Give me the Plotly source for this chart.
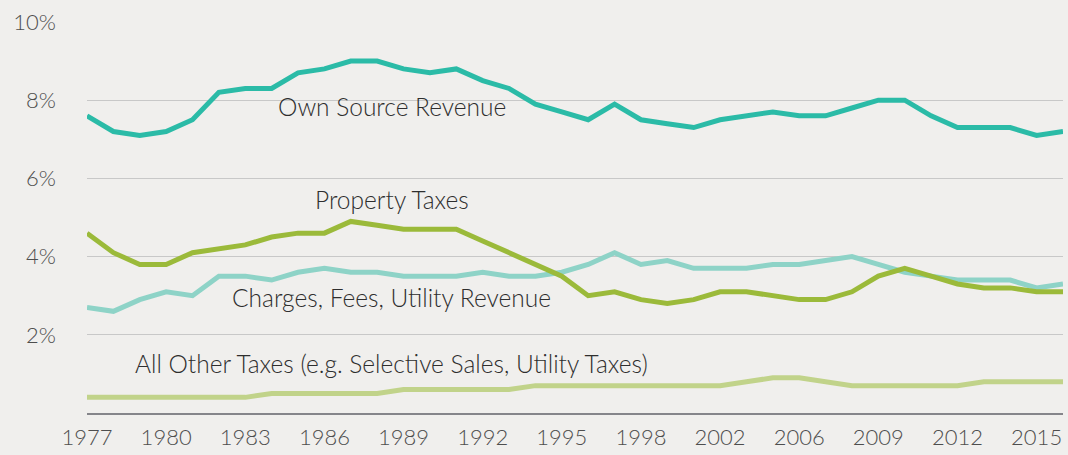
import plotly.graph_objects as go

years = [str(y) for y in list(range(1977, 2001)) + [2002] + list(range(2004, 2017))]

own_source = [7.6, 7.2, 7.1, 7.2, 7.5, 8.2, 8.3, 8.3, 8.7, 8.8, 9.0, 9.0, 8.8, 8.7, 8.8, 8.5,
              8.3, 7.9, 7.7, 7.5, 7.9, 7.5, 7.4, 7.3, 7.5, 7.6, 7.7, 7.6, 7.6, 7.8, 8.0, 8.0,
              7.6, 7.3, 7.3, 7.3, 7.1, 7.2]
property_taxes = [4.6, 4.1, 3.8, 3.8, 4.1, 4.2, 4.3, 4.5, 4.6, 4.6, 4.9, 4.8, 4.7, 4.7, 4.7, 4.4,
                  4.1, 3.8, 3.5, 3.0, 3.1, 2.9, 2.8, 2.9, 3.1, 3.1, 3.0, 2.9, 2.9, 3.1, 3.5, 3.7,
                  3.5, 3.3, 3.2, 3.2, 3.1, 3.1]
charges = [2.7, 2.6, 2.9, 3.1, 3.0, 3.5, 3.5, 3.4, 3.6, 3.7, 3.6, 3.6, 3.5, 3.5, 3.5, 3.6,
           3.5, 3.5, 3.6, 3.8, 4.1, 3.8, 3.9, 3.7, 3.7, 3.7, 3.8, 3.8, 3.9, 4.0, 3.8, 3.6,
           3.5, 3.4, 3.4, 3.4, 3.2, 3.3]
other_taxes = [0.4, 0.4, 0.4, 0.4, 0.4, 0.4, 0.4, 0.5, 0.5, 0.5, 0.5, 0.5, 0.6, 0.6, 0.6, 0.6,
               0.6, 0.7, 0.7, 0.7, 0.7, 0.7, 0.7, 0.7, 0.7, 0.8, 0.9, 0.9, 0.8, 0.7, 0.7, 0.7,
               0.7, 0.7, 0.8, 0.8, 0.8, 0.8]

tick_years = ["1977", "1980", "1983", "1986", "1989", "1992", "1995", "1998",
              "2002", "2006", "2009", "2012", "2015"]
y_ticks = [2, 4, 6, 8, 10]
y_tick_text = ["2%", "4%", "6%", "8%", "10%"]

series = [
    ("All Other Taxes (e.g. Selective Sales, Utility Taxes)", other_taxes, "#C1D38A"),
    ("Charges, Fees, Utility Revenue", charges, "#8ED3C7"),
    ("Property Taxes", property_taxes, "#9BBA3A"),
    ("Own Source Revenue", own_source, "#2BBBA7"),
]

# label text and vertical anchor value (%); labels share one horizontal centre
labels = [
    ("Own Source Revenue", 7.85),
    ("Property Taxes", 5.45),
    ("Charges, Fees, Utility Revenue", 2.96),
    ("All Other Taxes (e.g. Selective Sales, Utility Taxes)", 1.26),
]
LABEL_X = 11.55  # category position between 1988 and 1989

FONT = "Lato, 'Open Sans', sans-serif"

fig = go.Figure()
for name, vals, color in series:
    fig.add_trace(go.Scatter(x=years, y=vals, mode="lines", name=name,
                             line=dict(color=color, width=5), hoverinfo="x+y"))

for text, yv in labels:
    fig.add_annotation(x=LABEL_X, y=yv, xref="x", yref="y", text=text,
                       showarrow=False, xanchor="center", yanchor="middle",
                       font=dict(family=FONT, size=24.5, color="#2E2E2E", weight=300))

fig.update_layout(
    width=1068, height=455,
    margin=dict(l=87, r=5, t=22, b=38),
    paper_bgcolor="#F0EFED", plot_bgcolor="#F0EFED",
    showlegend=False,
    font=dict(family=FONT, size=21, color="#555555"),
    xaxis=dict(type="category", categoryorder="array", categoryarray=years,
               range=[0, 37], tickmode="array", tickvals=tick_years, ticktext=tick_years,
               showgrid=False, showline=True, linecolor="#85858A", linewidth=2,
               ticks="outside", ticklen=4, tickcolor="rgba(0,0,0,0)",
               tickfont=dict(size=22, color="#4E4E4E", weight=300), zeroline=False),
    yaxis=dict(range=[0, 10], tickmode="array", tickvals=y_ticks, ticktext=y_tick_text,
               showgrid=True, gridcolor="#C8C8C8", gridwidth=1, zeroline=False,
               showline=False, ticks="", ticklabelstandoff=30,
               tickfont=dict(size=22, color="#4E4E4E", weight=300)),
)

fig.write_html("out.html", config={"displayModeBar": False},
               post_script="document.body.style.margin='0';document.body.style.overflow='hidden';")
